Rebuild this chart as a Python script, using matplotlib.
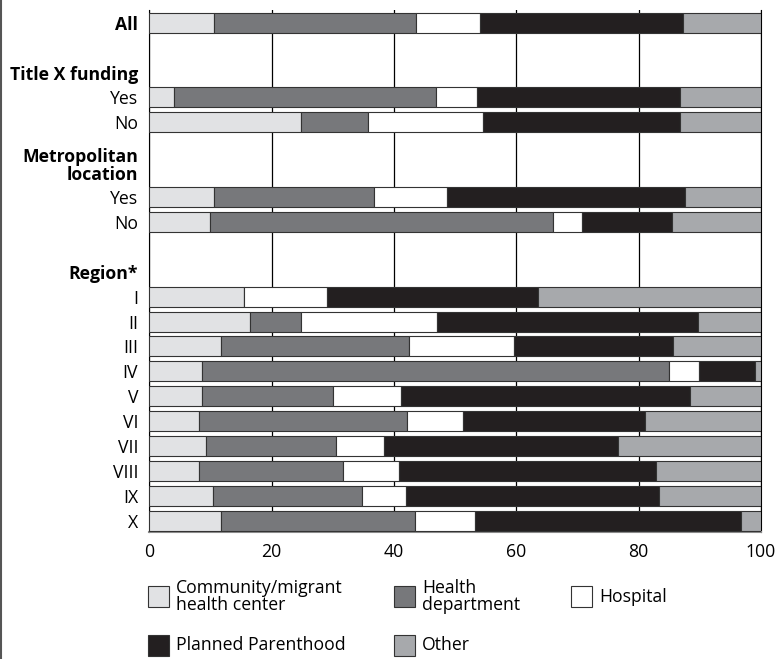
import matplotlib
matplotlib.use('Agg')
import numpy as np
import matplotlib.pyplot as plt
from matplotlib.patches import Rectangle
from matplotlib.lines import Line2D

plt.rcParams['font.family'] = ['Open Sans', 'DejaVu Sans']

W, H = 778, 659

# rows of the chart (y position in row units), label, bold?
row_labels = ['All', 'Title X funding', 'Yes', 'No', 'Metropolitan\nlocation', 'Yes', 'No',
              'Region*', 'I', 'II', 'III', 'IV', 'V', 'VI', 'VII', 'VIII', 'IX', 'X']
row_pos = [0, 2, 3, 4, 5.68, 7, 8, 10, 11, 12, 13, 14, 15, 16, 17, 18, 19, 20]
row_bold = [True, True, False, False, True, False, False,
            True, False, False, False, False, False, False, False, False, False, False]

# bars: which rows carry data
bar_pos = [0, 3, 4, 7, 8, 11, 12, 13, 14, 15, 16, 17, 18, 19, 20]

series = ['Community/migrant\nhealth center', 'Health\ndepartment', 'Hospital',
          'Planned Parenthood', 'Other']
community = [10.5, 4.0, 24.8, 10.5, 10.0, 15.4, 16.4, 11.8, 8.6, 8.6, 8.2, 9.2, 8.1, 10.4, 11.8]
health_dept = [33.1, 42.8, 10.9, 26.2, 56.0, 0.0, 8.4, 30.7, 76.3, 21.4, 33.9, 21.3, 23.5, 24.3, 31.7]
hospital = [10.4, 6.7, 18.8, 12.0, 4.8, 13.6, 22.2, 17.2, 4.9, 11.1, 9.2, 7.8, 9.3, 7.3, 9.8]
planned = [33.2, 33.3, 32.3, 38.8, 14.7, 34.6, 42.7, 25.9, 9.2, 47.3, 29.7, 38.4, 42.0, 41.3, 43.4]
other = [12.8, 13.2, 13.2, 12.5, 14.5, 36.4, 10.3, 14.4, 1.0, 11.6, 19.0, 23.3, 17.1, 16.7, 3.3]

colors = ['#e1e2e4', '#77787b', '#ffffff', '#231f20', '#a7a9ac']
edge = '#333333'

fig = plt.figure(figsize=(W / 100, H / 100), dpi=100)
ax = fig.add_axes([149.3 / W, 1 - 532 / H, (761 - 149.3) / W, (532 - 10) / H])

left = np.zeros(len(bar_pos))
for vals, c in zip([community, health_dept, hospital, planned, other], colors):
    vals = np.array(vals)
    ax.barh(bar_pos, vals, left=left, height=0.8, color=c, edgecolor=edge,
            linewidth=0.8, zorder=3)
    left += vals

ax.set_xlim(0, 100)
ax.set_ylim(20.45, -0.51)
ax.set_xticks([0, 20, 40, 60, 80, 100])
ax.xaxis.grid(True, color='black', linewidth=0.9, zorder=0)
ax.set_axisbelow(True)

ax.tick_params(axis='y', length=0, pad=8, labelsize=12.7)
ax.tick_params(axis='x', length=0, pad=8, labelsize=12.7)

ax.set_yticks(row_pos, row_labels)
for t, b in zip(ax.get_yticklabels(), row_bold):
    if b:
        t.set_fontweight('bold')
    t.set_linespacing(1.0)

ax.spines['top'].set_visible(False)
ax.spines['left'].set_color('black')
ax.spines['right'].set_color('black')
ax.spines['bottom'].set_color('#8a8a8a')
ax.spines['bottom'].set_linewidth(1.5)

# legend drawn by hand: three columns, two rows
leg_cols = [148, 394.3, 571]
leg_rows = [596.5, 645.5]
leg_slots = [(0, 0), (1, 0), (2, 0), (0, 1), (1, 1)]
box = 21
for (ci, ri), name, c in zip(leg_slots, series, colors):
    x0 = leg_cols[ci]
    yc = leg_rows[ri]
    fig.patches.append(Rectangle((x0 / W, 1 - (yc + box / 2) / H), box / W, box / H,
                                 transform=fig.transFigure, facecolor=c,
                                 edgecolor=edge, linewidth=0.8))
    fig.text((x0 + box + 7) / W, 1 - yc / H, name, ha='left', va='center',
             fontsize=12.7, linespacing=0.95)

# thin frame line on the left edge of the page
fig.add_artist(Line2D([0.0015, 0.0015], [0, 1], transform=fig.transFigure,
                      color='#555555', linewidth=1.5))

plt.savefig('out.png', dpi=100)
